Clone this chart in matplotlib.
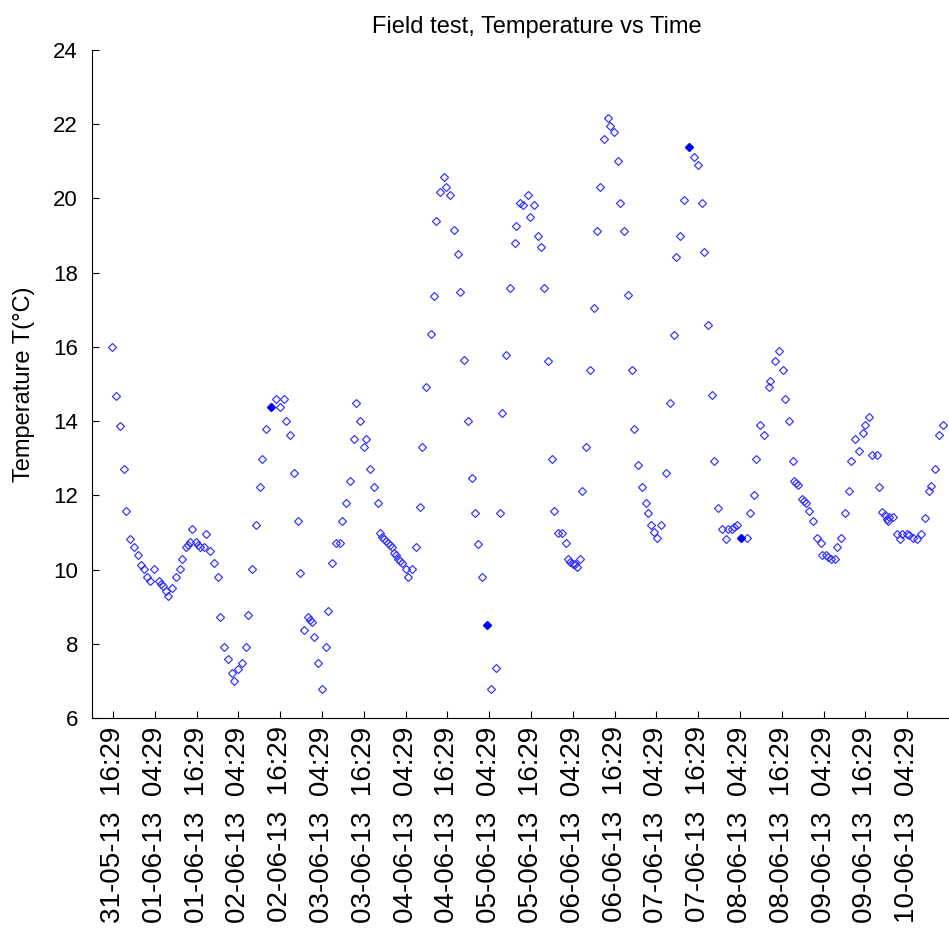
import matplotlib
matplotlib.use("Agg")
import matplotlib.pyplot as plt

# Elapsed time (hours after 31-05-13 16:29) and measured temperature (deg C)
hours = [
    -0.29, 0.86, 2.10, 3.24, 3.73, 4.97, 6.03, 7.09, 7.95, 8.81,
    9.85, 10.71, 11.77, 13.12, 13.78, 14.27, 15.30, 15.88, 16.94, 18.08,
    19.23, 19.81, 20.96, 21.53, 22.11, 22.68, 23.83, 24.40, 24.98, 26.13,
    26.70, 27.85, 28.99, 30.14, 30.72, 31.86, 33.01, 34.16, 34.73, 35.88,
    37.03, 38.18, 38.76, 39.90, 41.05, 42.20, 42.77, 43.92, 45.44, 46.79,
    47.94, 49.09, 49.66, 50.81, 51.96, 53.11, 53.68, 54.83, 55.98, 56.55,
    57.13, 57.70, 58.85, 60.00, 61.15, 61.72, 62.87, 64.02, 65.17, 65.74,
    66.89, 68.04, 69.19, 69.76, 70.91, 72.06, 72.63, 73.78, 74.93, 76.08,
    76.65, 77.22, 77.80, 78.37, 78.95, 79.52, 80.10, 80.67, 81.24, 81.82,
    82.39, 82.97, 84.11, 84.69, 85.84, 86.99, 88.13, 88.71, 89.86, 91.21,
    92.15, 92.87, 93.88, 95.03, 95.69, 96.75, 97.89, 99.04, 99.76, 100.77,
    101.91, 103.06, 103.84, 104.78, 105.93, 107.45, 108.66, 109.95, 111.10, 111.67,
    112.82, 113.97, 115.32, 115.69, 116.84, 117.79, 119.14, 119.71, 120.86, 122.01,
    122.78, 123.73, 124.88, 126.03, 126.60, 127.75, 128.90, 130.05, 130.62, 131.20,
    131.97, 132.63, 133.12, 134.15, 134.64, 135.79, 136.94, 138.08, 138.86, 139.81,
    140.96, 142.10, 142.68, 143.83, 144.98, 145.55, 146.70, 147.85, 149.00, 149.57,
    150.72, 151.87, 153.01, 153.59, 154.45, 155.31, 156.17, 157.32, 158.76, 159.90,
    161.05, 161.63, 162.77, 163.92, 165.44, 166.79, 167.94, 169.09, 169.66, 170.81,
    171.96, 172.54, 173.68, 174.83, 175.98, 176.55, 177.70, 178.28, 179.05, 180.20,
    181.92, 182.87, 184.01, 184.59, 185.74, 186.89, 188.24, 188.61, 189.96, 191.11,
    192.26, 192.83, 193.98, 195.13, 195.50, 196.07, 196.65, 197.80, 198.37, 198.94,
    199.72, 200.87, 202.02, 203.16, 203.54, 204.69, 205.26, 206.04, 207.19, 207.76,
    208.91, 210.06, 211.21, 211.95, 212.93, 214.07, 215.22, 215.80, 216.95, 217.89,
    219.24, 219.82, 220.77, 221.54, 222.12, 222.49, 222.87, 223.84, 224.99, 225.94,
    226.51, 227.86, 228.44, 229.58, 230.73, 231.88, 233.03, 234.18, 234.75, 235.90,
    237.05, 238.19,
]

temperature = [
    16.00, 14.68, 13.88, 12.70, 11.57, 10.82, 10.60, 10.38, 10.12, 10.01,
    9.81, 9.70, 10.01, 9.70, 9.61, 9.56, 9.41, 9.30, 9.49, 9.80,
    10.01, 10.28, 10.60, 10.67, 10.73, 11.09, 10.73, 10.67, 10.60, 10.62,
    10.97, 10.49, 10.17, 9.79, 8.71, 7.90, 7.58, 7.20, 6.99, 7.31,
    7.47, 7.90, 8.77, 10.01, 11.19, 12.22, 12.97, 13.78, 14.37, 14.59,
    14.37, 14.59, 14.00, 13.62, 12.59, 11.30, 9.90, 8.38, 8.71, 8.65,
    8.60, 8.17, 7.47, 6.77, 7.90, 8.87, 10.17, 10.71, 10.71, 11.30,
    11.78, 12.38, 13.51, 14.48, 14.00, 13.29, 13.51, 12.70, 12.22, 11.78,
    10.98, 10.87, 10.81, 10.76, 10.71, 10.65, 10.60, 10.44, 10.38, 10.28,
    10.22, 10.17, 10.01, 9.79, 10.01, 10.60, 11.68, 13.29, 14.91, 16.35,
    17.38, 19.40, 20.18, 20.57, 20.30, 20.08, 19.15, 18.50, 17.49, 15.65,
    14.00, 12.48, 11.52, 10.70, 9.80, 8.50, 6.77, 7.36, 11.52, 14.22,
    15.77, 17.60, 18.79, 19.27, 19.87, 19.81, 20.09, 19.49, 19.81, 19.00,
    18.68, 17.60, 15.61, 12.97, 11.57, 10.99, 10.99, 10.71, 10.28, 10.20,
    10.15, 10.15, 10.08, 10.28, 12.11, 13.29, 15.39, 17.06, 19.11, 20.30,
    21.59, 22.18, 21.96, 21.79, 21.00, 19.87, 19.11, 17.39, 15.39, 13.78,
    12.81, 12.22, 11.78, 11.52, 11.20, 11.00, 10.85, 11.20, 12.59, 14.48,
    16.31, 18.41, 19.00, 19.97, 21.38, 21.11, 20.89, 19.87, 18.57, 16.58,
    14.70, 12.92, 11.67, 11.08, 10.81, 11.08, 11.08, 11.14, 11.19, 10.86,
    10.86, 11.52, 12.00, 12.97, 13.89, 13.62, 14.91, 15.07, 15.61, 15.88,
    15.39, 14.59, 14.00, 12.92, 12.38, 12.32, 12.27, 11.89, 11.84, 11.78,
    11.57, 11.30, 10.86, 10.71, 10.38, 10.38, 10.33, 10.28, 10.28, 10.60,
    10.86, 11.52, 12.11, 12.92, 13.51, 13.19, 13.67, 13.89, 14.10, 13.08,
    13.08, 12.22, 11.54, 11.46, 11.35, 11.30, 11.41, 11.42, 10.97, 10.81,
    10.97, 10.97, 10.92, 10.86, 10.81, 10.97, 11.40, 12.11, 12.24, 12.70,
    13.62, 13.89,
]

# Samples drawn with a solid marker
marked_samples = [48, 115, 174, 189]

tick_hours = [12 * i for i in range(20)]
tick_labels = [
    "31-05-13  16:29", "01-06-13  04:29", "01-06-13  16:29", "02-06-13  04:29",
    "02-06-13  16:29", "03-06-13  04:29", "03-06-13  16:29", "04-06-13  04:29",
    "04-06-13  16:29", "05-06-13  04:29", "05-06-13  16:29", "06-06-13  04:29",
    "06-06-13  16:29", "07-06-13  04:29", "07-06-13  16:29", "08-06-13  04:29",
    "08-06-13  16:29", "09-06-13  04:29", "09-06-13  16:29", "10-06-13  04:29",
]
y_ticks = [6, 8, 10, 12, 14, 16, 18, 20, 22, 24]

plt.rcParams["font.family"] = ["Liberation Sans", "DejaVu Sans"]
narrow = ["Liberation Sans Narrow", "Liberation Sans", "DejaVu Sans"]

fig = plt.figure(figsize=(9.49, 9.30), dpi=100)
# The axes run a little past the right edge of the canvas
ax = fig.add_axes([92 / 949, 1 - 718 / 930, (982 - 92) / 949, (718 - 50) / 930])

ax.plot(hours, temperature, linestyle="none", marker="D", markersize=3.7,
        markerfacecolor="none", markeredgecolor="#3030ff", markeredgewidth=0.85)
ax.plot([hours[i] for i in marked_samples], [temperature[i] for i in marked_samples],
        linestyle="none", marker="D", markersize=4.4,
        markerfacecolor="#0000ff", markeredgecolor="#0000ff", markeredgewidth=0.8)

ax.set_xlim(-6.0, 249.5)
ax.set_ylim(6, 24)
ax.set_xticks(tick_hours)
ax.set_xticklabels(tick_labels, rotation=90, fontsize=20)
ax.set_yticks(y_ticks)
ax.set_yticklabels([str(v) for v in y_ticks], fontsize=16, family=narrow)

ax.tick_params(direction="in", length=5, width=0.8, color="black")
ax.tick_params(axis="x", pad=6)
ax.tick_params(axis="y", pad=10)
for side in ("top", "right"):
    ax.spines[side].set_visible(False)
for side in ("left", "bottom"):
    ax.spines[side].set_linewidth(0.8)

ax.set_title("Field test, Temperature vs Time", fontsize=17, pad=12)
ax.set_ylabel("Temperature T(\u00b0C)", fontsize=17, labelpad=13)

fig.savefig("out.png", dpi=100)
